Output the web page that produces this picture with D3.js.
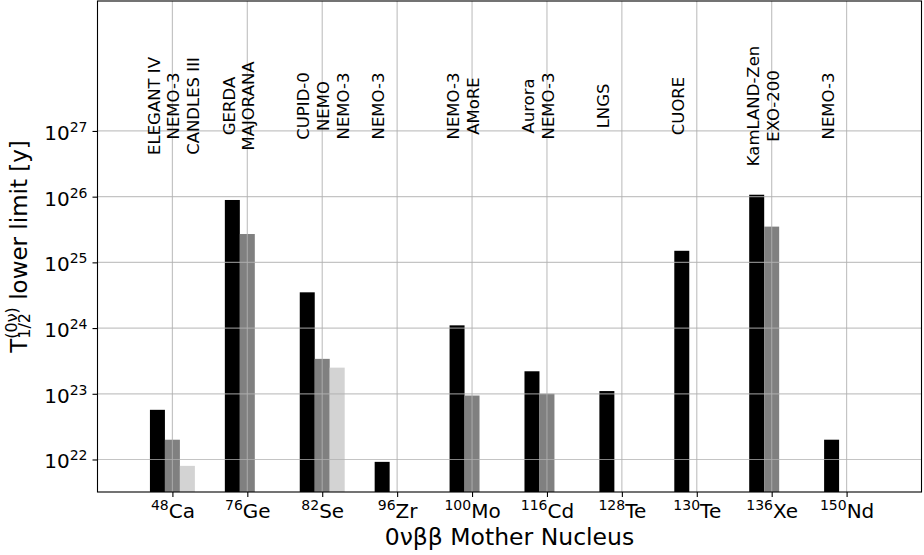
<!DOCTYPE html>
<html>
<head>
<meta charset="utf-8">
<script src="https://cdn.jsdelivr.net/npm/d3@7"></script>
<style>
    body { margin: 0; background: #fff; }
    svg { display: block; font-family: "DejaVu Sans", sans-serif; }
</style>
</head>
<body>
<svg id="chart"></svg>
<script>
// mother nuclei (element + mass number)
const elements = ['Ca', 'Ge', 'Se', 'Zr', 'Mo', 'Cd', 'Te', 'Te', 'Xe', 'Nd'];
const massNumbers = [48, 76, 82, 96, 100, 116, 128, 130, 136, 150];

// half-life lower limits [y], one array per bar slot
const limitsFirst = [5.7e22, 8.9e25, 3.5e24, 9.2e21, 1.1e24, 2.2e23, 1.1e23, 1.5e25, 1.07e26, 2.0e22];
const limitsSecond = [2.0e22, 2.7e25, 3.4e23, null, 9.4e22, 1.0e23, null, null, 3.5e25, null];
const limitsThird = [8.0e21, null, 2.5e23, null, null, null, null, null, null, null];

// experiments quoted above each nucleus
const experiments = [
    ['ELEGANT IV', 'NEMO-3', 'CANDLES III'],
    ['GERDA', 'MAJORANA'],
    ['CUPID-0', 'NEMO', 'NEMO-3'],
    ['NEMO-3'],
    ['NEMO-3', 'AMoRE'],
    ['Aurora', 'NEMO-3'],
    ['LNGS'],
    ['CUORE'],
    ['KamLAND-Zen', 'EXO-200'],
    ['NEMO-3']
];

const yTickExponents = [22, 23, 24, 25, 26, 27];

const containerWidth = 924, containerHeight = 555;
const margin = {top: 1, right: 2.5, bottom: 63, left: 97.5};
const width = containerWidth - margin.left - margin.right;
const height = containerHeight - margin.top - margin.bottom;
const fontFamily = '"DejaVu Sans", sans-serif';

const seriesList = [
    {values: limitsFirst, offset: -0.2, color: '#000000'},
    {values: limitsSecond, offset: 0, color: '#808080'},
    {values: limitsThird, offset: 0.2, color: '#d3d3d3'}
];
const barWidth = 0.2;

const xScale = d3.scaleLinear()
    .domain([-1, 10])
    .range([0, width]);

const yScale = d3.scaleLog()
    .domain([3.2e21, 9.5e28])
    .range([height, 0]);

const svg = d3.select('#chart')
    .attr('width', containerWidth)
    .attr('height', containerHeight);

const chart = svg.append('g')
    .attr('transform', `translate(${margin.left},${margin.top})`);

chart.append('clipPath').attr('id', 'plot-clip')
    .append('rect').attr('width', width).attr('height', height);

// bars
const barLayer = chart.append('g').attr('clip-path', 'url(#plot-clip)');
seriesList.forEach(s => {
    const rows = s.values.map((v, i) => ({i, v})).filter(d => d.v != null);
    barLayer.selectAll(null)
        .data(rows)
        .enter()
        .append('rect')
        .attr('x', d => xScale(d.i + s.offset - barWidth / 2))
        .attr('width', xScale(barWidth) - xScale(0))
        .attr('y', d => yScale(d.v))
        .attr('height', d => height - yScale(d.v))
        .attr('fill', s.color);
});

// grid drawn over the bars, like matplotlib's default
const gridLayer = chart.append('g')
    .attr('stroke', '#b0b0b0')
    .attr('stroke-opacity', 0.75)
    .attr('stroke-width', 1.2);
gridLayer.selectAll(null)
    .data(massNumbers.map((m, i) => i))
    .enter().append('line')
    .attr('x1', d => xScale(d)).attr('x2', d => xScale(d))
    .attr('y1', 0).attr('y2', height);
gridLayer.selectAll(null)
    .data(yTickExponents)
    .enter().append('line')
    .attr('x1', 0).attr('x2', width)
    .attr('y1', d => yScale(Math.pow(10, d))).attr('y2', d => yScale(Math.pow(10, d)));

// axes
const xAxis = d3.axisBottom(xScale)
    .tickValues(massNumbers.map((m, i) => i))
    .tickSize(5)
    .tickFormat('');
const xAxisGroup = chart.append('g')
    .attr('transform', `translate(0,${height})`)
    .attr('font-family', fontFamily)
    .call(xAxis);
xAxisGroup.attr('font-family', fontFamily);
xAxisGroup.select('.domain').remove();
xAxisGroup.selectAll('.tick line').attr('stroke', '#000').attr('stroke-width', 1.1);
xAxisGroup.selectAll('.tick text')
    .attr('y', 26).attr('dy', 0)
    .attr('fill', '#000')
    .style('font-size', '20px')
    .each(function(d) {
        const t = d3.select(this);
        t.append('tspan').attr('font-size', '14px').attr('dy', -8).text(massNumbers[d]);
        t.append('tspan').attr('dy', 8).text(elements[d]);
    });

const yAxis = d3.axisLeft(yScale)
    .tickValues(yTickExponents.map(e => Math.pow(10, e)))
    .tickSize(5)
    .tickPadding(5)
    .tickFormat('');
const yAxisGroup = chart.append('g').call(yAxis);
yAxisGroup.attr('font-family', fontFamily);
yAxisGroup.select('.domain').remove();
yAxisGroup.selectAll('.tick line').attr('stroke', '#000').attr('stroke-width', 1.1);
yAxisGroup.selectAll('.tick text')
    .attr('dy', 0)
    .attr('fill', '#000')
    .style('font-size', '20px')
    .each(function(d) {
        const t = d3.select(this);
        t.append('tspan').attr('dy', 8.5).text('10');
        t.append('tspan').attr('font-size', '14px').attr('dy', -8).text(Math.round(Math.log10(d)));
    });

// frame
chart.append('rect')
    .attr('width', width).attr('height', height)
    .attr('fill', 'none').attr('stroke', '#000').attr('stroke-width', 1.1);

// experiment names, rotated
const labelY = yScale(Math.pow(10, 27.38));
experiments.forEach((lines, i) => {
    lines.forEach((name, k) => {
        chart.append('text')
            .attr('transform', `translate(${xScale(i - 0.17) + k * 19.8},${labelY}) rotate(-90)`)
            .attr('text-anchor', 'middle')
            .style('font-size', '16.5px')
            .text(name);
    });
});

// axis titles
svg.append('text')
    .attr('x', margin.left + width / 2)
    .attr('y', 545)
    .attr('text-anchor', 'middle')
    .style('font-size', '23.5px')
    .text('0νββ Mother Nucleus');

const measure = (str, size) => {
    const tmp = svg.append('text').style('font-size', size).text(str);
    const w = tmp.node().getComputedTextLength();
    tmp.remove();
    return w;
};
const supW = measure('(0ν)', '16px');
const subW = measure('1/2', '16px');

const yLabel = svg.append('text')
    .attr('transform', `translate(27,${margin.top + height / 2}) rotate(-90)`)
    .attr('text-anchor', 'middle')
    .style('font-size', '23px');
yLabel.append('tspan').text('T');
yLabel.append('tspan').attr('font-size', '16px').attr('dy', -10).text('(0ν)');
yLabel.append('tspan').attr('font-size', '16px').attr('dx', -supW).attr('dy', 13).text('1/2');
yLabel.append('tspan').attr('dx', supW - subW).attr('dy', -3).text(' lower limit [y]');
</script>
</body>
</html>
